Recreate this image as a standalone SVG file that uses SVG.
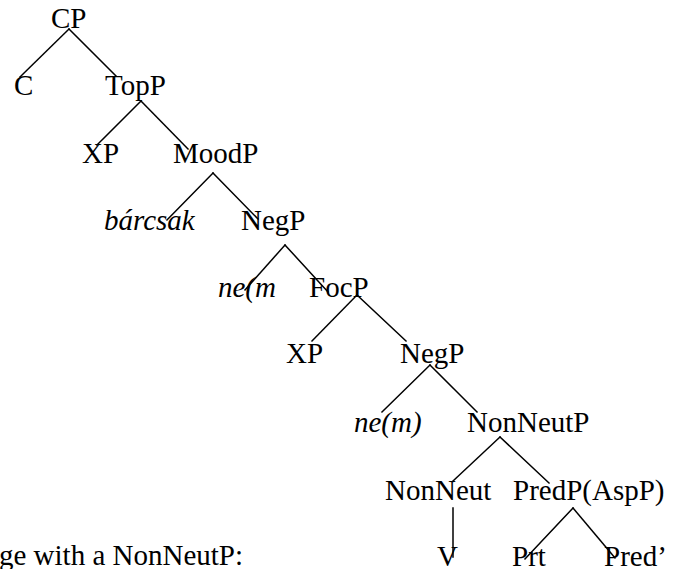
<svg xmlns="http://www.w3.org/2000/svg" width="673" height="569" viewBox="0 0 673 569">
<style>
text{font-size:29px;fill:#000}
.i{font-style:italic}
#edges line{stroke:#000;stroke-width:1.5;stroke-linecap:square}
</style>
<rect width="673" height="569" fill="#fff"/>
<g id="edges">
<line x1="69" y1="29" x2="20" y2="77"/>
<line x1="69" y1="29" x2="116" y2="76"/>
<line x1="141" y1="101" x2="97" y2="145"/>
<line x1="141" y1="101" x2="188" y2="149"/>
<line x1="213" y1="173" x2="167" y2="220"/>
<line x1="213" y1="173" x2="258" y2="219"/>
<line x1="285" y1="245" x2="245" y2="290"/>
<line x1="285" y1="245" x2="328" y2="292"/>
<line x1="357" y1="295" x2="312" y2="341"/>
<line x1="357" y1="295" x2="406" y2="341"/>
<line x1="430" y1="365" x2="382" y2="412"/>
<line x1="430" y1="365" x2="477" y2="412"/>
<line x1="500" y1="437" x2="453" y2="481"/>
<line x1="500" y1="437" x2="549" y2="483"/>
<line x1="453" y1="508" x2="453" y2="557"/>
<line x1="573" y1="508" x2="525" y2="559"/>
<line x1="573" y1="508" x2="615" y2="558"/>
</g>
<g font-family="Liberation Serif, Times New Roman, DejaVu Serif, serif">
<g id="n-CP"><text x="51" y="28">CP</text></g>
<g id="n-C"><text x="14" y="95">C</text></g>
<g id="n-TopP"><text x="105" y="95">TopP</text></g>
<g id="n-XP1"><text x="82" y="163">XP</text></g>
<g id="n-MoodP"><text x="173" y="163">MoodP</text></g>
<g id="n-barcsak"><text class="i" x="104" y="230">bárcsak</text></g>
<g id="n-NegP1"><text x="241" y="230">NegP</text></g>
<g id="n-nem1"><text class="i" x="218" y="297">ne(m</text></g>
<g id="n-FocP"><text x="309" y="297">FocP</text></g>
<g id="n-XP2"><text x="286" y="363">XP</text></g>
<g id="n-NegP2"><text x="400" y="363">NegP</text></g>
<g id="n-nem2"><text class="i" x="354" y="432">ne(m)</text></g>
<g id="n-NonNeutP"><text x="467" y="432">NonNeutP</text></g>
<g id="n-NonNeut"><text x="385" y="500">NonNeut</text></g>
<g id="n-PredP"><text x="513" y="500">PredP(AspP)</text></g>
<g id="n-V"><text x="437" y="566">V</text></g>
<g id="n-Prt"><text x="512" y="566">Prt</text></g>
<g id="n-Pred"><text x="604" y="566">Pred’</text></g>
<g id="caption"><text x="-1" y="565">ge with a NonNeutP:</text></g>
</g>
</svg>
